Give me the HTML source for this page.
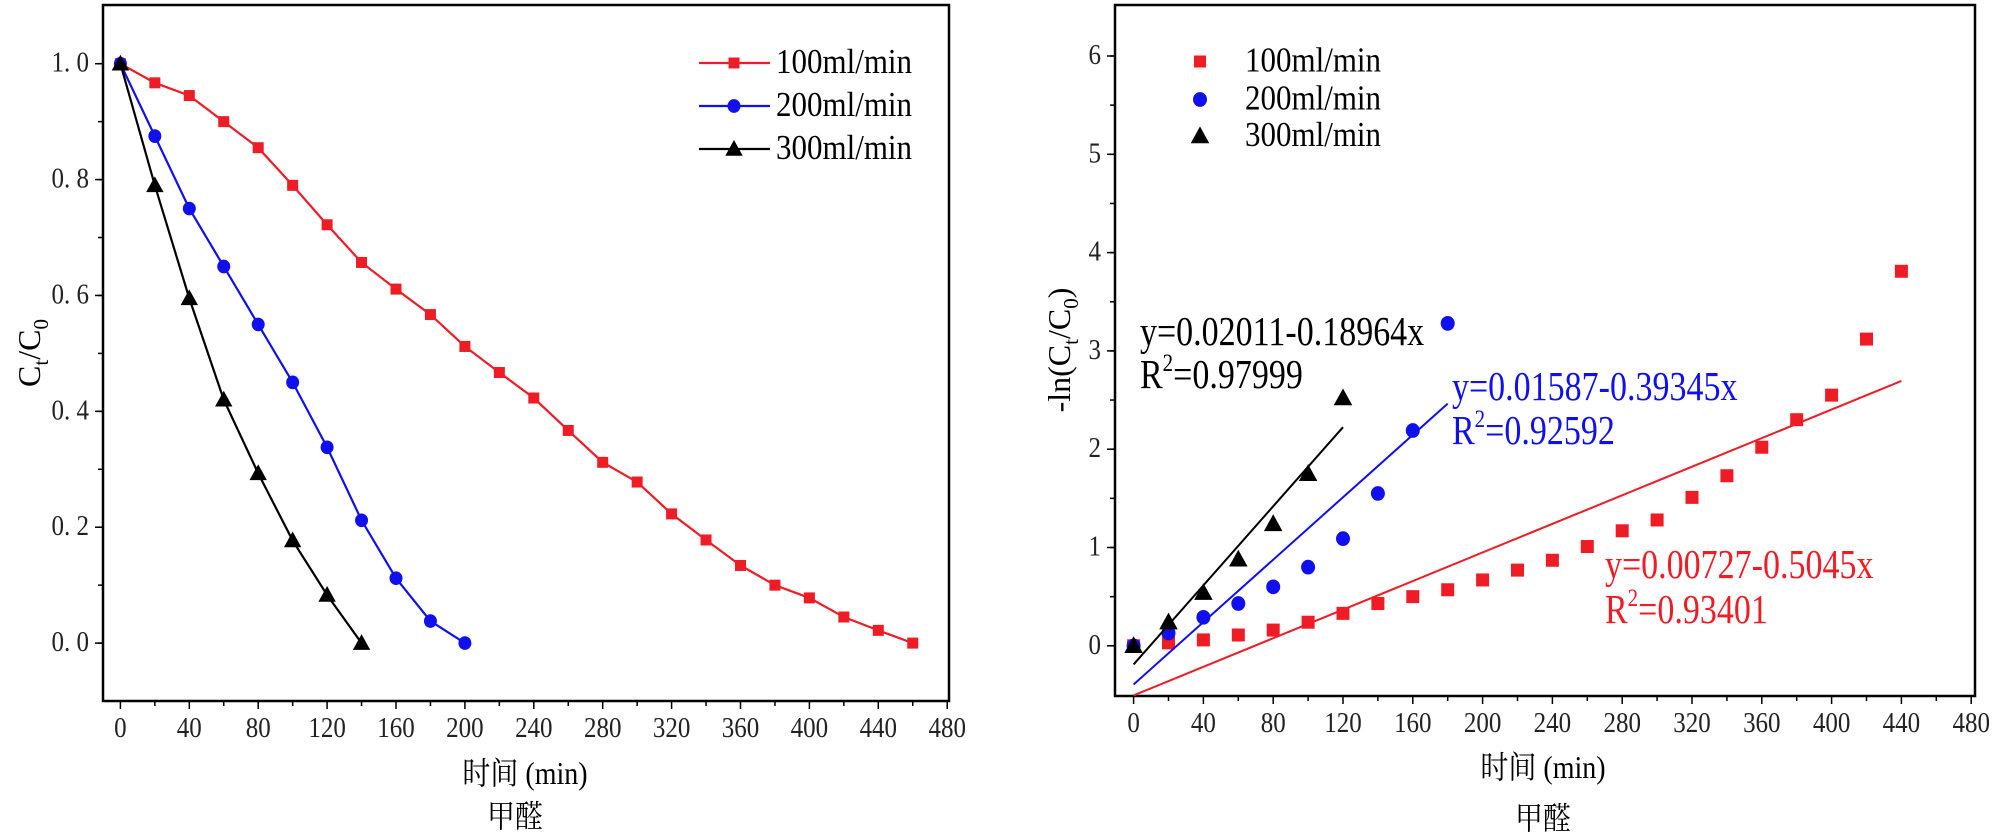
<!DOCTYPE html>
<html><head><meta charset="utf-8"><style>
html,body{margin:0;padding:0;background:#fff;}
svg{display:block;}
text{font-family:"Liberation Serif","Noto Serif CJK SC",serif;}
</style></head><body>
<svg id="c" width="2000" height="839" xmlns="http://www.w3.org/2000/svg"></svg>
<script>
// ---- data: left chart (Ct/C0 vs time) ----
const xs100 = [0,20,40,60,80,100,120,140,160,180,200,220,240,260,280,300,320,340,360,380,400,420,440,460];
const c100 = [1.0,0.967,0.945,0.9,0.855,0.79,0.722,0.657,0.611,0.567,0.512,0.467,0.423,0.367,0.312,0.278,0.223,0.178,0.134,0.1,0.078,0.045,0.022,0.0];
const xs200 = [0,20,40,60,80,100,120,140,160,180,200];
const c200 = [1,0.875,0.75,0.65,0.55,0.45,0.338,0.212,0.112,0.038,0];
const xs300 = [0,20,40,60,80,100,120,140];
const c300 = [1,0.79,0.595,0.42,0.293,0.177,0.083,0.0];
// ---- data: right chart (-ln(Ct/C0)) ----
const rx100 = [0,20,40,60,80,100,120,140,160,180,200,220,240,260,280,300,320,340,360,380,400,420,440];
const r100 = [0,0.03,0.06,0.11,0.16,0.24,0.33,0.43,0.5,0.57,0.67,0.77,0.87,1.01,1.17,1.28,1.51,1.73,2.02,2.3,2.55,3.12,3.81];
const rx200 = [0,20,40,60,80,100,120,140,160,180];
const r200 = [0,0.13,0.29,0.43,0.6,0.8,1.09,1.55,2.19,3.28];
const rx300 = [0,20,40,60,80,100,120];
const r300 = [0,0.24,0.54,0.88,1.24,1.75,2.52];
const fitSlope = [0.00727,0.01587,0.02011];
const fitIntercept = [-0.5045,-0.39345,-0.18964];
const fitXmax = [440,180,120];
const xTicks = [0,40,80,120,160,200,240,280,320,360,400,440,480];
const yTicksL = [0,0.2,0.4,0.6,0.8,1.0];
const yTicksR = [0,1,2,3,4,5,6];
const legendLabels = ["100ml/min","200ml/min","300ml/min"];

const NS="http://www.w3.org/2000/svg";
const svg=document.getElementById('c');
function mk(tag,attrs,parent){const e=document.createElementNS(NS,tag);for(const k in attrs)e.setAttribute(k,attrs[k]);(parent||svg).appendChild(e);return e;}
function txt(x,y,s,size,anchor,fill,name,sy){
  const g=mk('g',{transform:`translate(${x},${y}) scale(1,${sy||1.12})`});
  
  
  const t=mk('text',{x:0,y:0,'font-size':size,'text-anchor':anchor||'start',fill:fill||'#000'},g);
  t.textContent=s;return t;
}
function marker(type,x,y,col,s,name){
  let e;
  if(type==='sq') e=mk('rect',{x:x-s/2,y:y-s/2,width:s,height:s,fill:col});
  else if(type==='ci') e=mk('ellipse',{cx:x,cy:y,rx:s/2,ry:s/2*1.05,fill:col});
  else e=mk('polygon',{points:`${x},${y-s*0.6} ${x-s*0.58},${y+s*0.45} ${x+s*0.58},${y+s*0.45}`,fill:col});
  
  
}
function axes(L,R,T,B,xsc,ysc,yTicks,yMinor,yFmt,prefix){
  const f=mk('rect',{x:L,y:T,width:R-L,height:B-T,fill:'none',stroke:'#000','stroke-width':2.5});
  
  
  for(let v=0;v<=480;v+=20){const x=xsc(v);mk('line',{x1:x,y1:B,x2:x,y2:B+(v%40===0?8:5),stroke:'#000','stroke-width':1.5});}
  xTicks.forEach(v=>txt(xsc(v),B+36,String(v),25,'middle','#222',prefix+'-x-tick-label'));
  yMinor.forEach(v=>{const y=ysc(v);mk('line',{x1:L,y1:y,x2:L-5,y2:y,stroke:'#000','stroke-width':1.5});});
  yTicks.forEach(v=>{const y=ysc(v);mk('line',{x1:L,y1:y,x2:L-8,y2:y,stroke:'#000','stroke-width':1.5});
    txt(L-14,y+8,yFmt(v),25,'end','#222',prefix+'-y-tick-label');});
}
// ---- left chart ----
const lx=v=>120.4+(v)*(68.9/40);
const ly=v=>643.1-v*(579.4);
const yMinorL=[];for(let i=-1;i<=11;i++)yMinorL.push(i/10);
axes(103,949,5,701,lx,ly,yTicksL,yMinorL.filter(v=>v>-0.1&&v<1.1),v=>v.toFixed(1).replace('.','. '),'left');
function series(xa,ya,xsc,ysc,col,type,s,name,line){
  if(line){const p=xa.map((x,i)=>`${xsc(x)},${ysc(ya[i])}`).join(' ');
    const pl=mk('polyline',{points:p,fill:'none',stroke:col,'stroke-width':2.2});
    
    }
  xa.forEach((x,i)=>marker(type,xsc(x),ysc(ya[i]),col,s,name+'-point'));
}
series(xs100,c100,lx,ly,'#ee1c25','sq',11,'left-100',true);
series(xs200,c200,lx,ly,'#1010ee','ci',13,'left-200',true);
series(xs300,c300,lx,ly,'#000','tr',15,'left-300',true);
const lcol=['#ee1c25','#1010ee','#000'],ltype=['sq','ci','tr'],lsize=[11,13,15];
[63,106,149].forEach((y,i)=>{
  const ln=mk('line',{x1:699,y1:y,x2:770,y2:y,stroke:lcol[i],'stroke-width':2.2});
  
  
  marker(ltype[i],734,y,lcol[i],lsize[i],'left-legend-marker');
  txt(776,y+10,legendLabels[i],31,'start','#000','left-legend-entry');
});
txt(525,784,'时间 (min)',28,'middle','#000','left-x-axis-title');
txt(515,827,'甲醛',28,'middle','#000','left-chart-caption');
{const g=mk('g',{transform:'translate(40,353) rotate(-90)'});
 
 
 const t=mk('text',{x:0,y:0,'font-size':32,'text-anchor':'middle'},g);
 t.innerHTML='C<tspan font-size="21" dy="8">t</tspan><tspan dy="-8">/C</tspan><tspan font-size="21" dy="8">0</tspan>';}
// ---- right chart ----
const rx=v=>1133.6+v*(69.8/40);
const ry=v=>645.8-v*98.3;
const yMinorR=[];for(let i=-1;i<=13;i++)yMinorR.push(i/2);
axes(1115,1975,5,696,rx,ry,yTicksR,yMinorR.filter(v=>v>-0.5&&v<6.5),v=>String(v),'right');
series(rx100,r100,rx,ry,'#ee1c25','sq',13,'right-100',false);
series(rx200,r200,rx,ry,'#1010ee','ci',14,'right-200',false);
series(rx300,r300,rx,ry,'#000','tr',16,'right-300',false);
fitSlope.forEach((m,i)=>{
  const l=mk('line',{x1:rx(0),y1:ry(fitIntercept[i]),x2:rx(fitXmax[i]),y2:ry(fitIntercept[i]+m*fitXmax[i]),stroke:lcol[i],'stroke-width':2});
  
  
});
[61.5,99.5,136].forEach((y,i)=>{
  marker(ltype[i],1200,y,lcol[i],lsize[i]+1,'right-legend-marker');
  txt(1245,y+10,legendLabels[i],31,'start','#000','right-legend-entry');
});
function ann(x,y1,y2,eq,r2,col,name){
  txt(x,y1,eq,34,'start',col,name+'-equation',1.2);
  const g=mk('g',{transform:`translate(${x},${y2}) scale(1,1.2)`});
  
  
  const t=mk('text',{x:0,y:0,'font-size':34,fill:col},g);
  t.innerHTML='R<tspan font-size="21" dy="-14">2</tspan><tspan dy="14">='+r2+'</tspan>';
}
ann(1140,345,388,'y=0.02011-0.18964x','0.97999','#000','fit-300');
ann(1452,400,444,'y=0.01587-0.39345x','0.92592','#1010ee','fit-200');
ann(1605,578,623,'y=0.00727-0.5045x','0.93401','#ee1c25','fit-100');
txt(1543,778,'时间 (min)',28,'middle','#000','right-x-axis-title');
txt(1543,829,'甲醛',28,'middle','#000','right-chart-caption');
{const g=mk('g',{transform:'translate(1070,350) rotate(-90)'});
 
 
 const t=mk('text',{x:0,y:0,'font-size':32,'text-anchor':'middle'},g);
 t.innerHTML='-ln(C<tspan font-size="21" dy="8">t</tspan><tspan dy="-8">/C</tspan><tspan font-size="21" dy="8">0</tspan><tspan dy="-8">)</tspan>';}
</script>
</body></html>
